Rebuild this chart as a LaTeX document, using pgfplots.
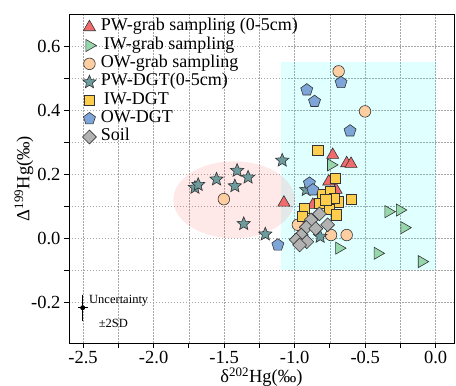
\documentclass[border=0pt]{standalone}
\usepackage{fontspec}
\setmainfont{Liberation Serif}
\usepackage{pgfplots}
\pgfplotsset{compat=1.18}
\definecolor{pwred}{RGB}{240,108,108}
\definecolor{iwgreen}{RGB}{150,215,172}
\definecolor{owpeach}{RGB}{253,206,162}
\definecolor{stargray}{RGB}{110,155,158}
\definecolor{sqyellow}{RGB}{253,205,75}
\definecolor{pentblue}{RGB}{125,165,215}
\definecolor{soilgray}{RGB}{178,178,178}
\definecolor{pcyan}{RGB}{0,255,255}
\definecolor{pred}{RGB}{255,0,0}
\pgfdeclareplotmark{fstar}{%
  \pgfpathmoveto{\pgfqpointpolar{90}{\pgfplotmarksize}}%
  \pgfpathlineto{\pgfqpointpolar{126}{0.45\pgfplotmarksize}}%
  \pgfpathlineto{\pgfqpointpolar{162}{\pgfplotmarksize}}%
  \pgfpathlineto{\pgfqpointpolar{198}{0.45\pgfplotmarksize}}%
  \pgfpathlineto{\pgfqpointpolar{234}{\pgfplotmarksize}}%
  \pgfpathlineto{\pgfqpointpolar{270}{0.45\pgfplotmarksize}}%
  \pgfpathlineto{\pgfqpointpolar{306}{\pgfplotmarksize}}%
  \pgfpathlineto{\pgfqpointpolar{342}{0.45\pgfplotmarksize}}%
  \pgfpathlineto{\pgfqpointpolar{18}{\pgfplotmarksize}}%
  \pgfpathlineto{\pgfqpointpolar{54}{0.45\pgfplotmarksize}}%
  \pgfpathclose
  \pgfusepathqfillstroke
}
\begin{document}
\begin{tikzpicture}
\begin{axis}[
  scale only axis, width=385pt, height=329pt,
  xmin=-2.6, xmax=0.13, ymin=-0.327, ymax=0.70,
  xtick={-2.5,-2.0,-1.5,-1.0,-0.5,0.0}, minor x tick num=1,
  ytick={-0.2,0.0,0.2,0.4,0.6}, minor y tick num=1,
  grid=both,
  major grid style={dash pattern=on 1.5pt off 1.5pt, gray!70, line width=0.5pt},
  minor grid style={dash pattern=on 1.5pt off 1.5pt, gray!70, line width=0.5pt},
  tick align=outside, tick pos=left,
  major tick length=5pt, minor tick length=5pt,
  every tick/.style={black, line width=0.8pt},
  axis line style={line width=0.9pt},
  /pgf/number format/assume math mode=true,
  xticklabel style={/pgf/number format/.cd, fixed, fixed zerofill, precision=1},
  yticklabel style={/pgf/number format/.cd, fixed, fixed zerofill, precision=1},
  ticklabel style={font=\fontsize{18.5}{19}\selectfont},
  label style={font=\fontsize{18.5}{19}\selectfont},
  xlabel={δ\textsuperscript{202}Hg(‰)},
  ylabel={Δ\textsuperscript{199}Hg(‰)},
  xlabel style={at={(axis description cs:0.5,-0.105)}, anchor=center},
  ylabel style={at={(axis description cs:-0.117,0.5)}, anchor=center},
  legend style={at={(0.032,0.99)}, anchor=north west, draw=none, fill=none,
    font=\fontsize{18}{19}\selectfont, row sep=0.8pt, inner sep=1pt,
    nodes={text height=11pt, text depth=3.5pt, inner sep=1.5pt},
    /tikz/every odd column/.append style={column sep=3pt}},
  legend cell align=left,
  every axis plot/.append style={only marks, line width=0.6pt},
]
\fill[pcyan, opacity=0.12] (axis cs:-1.1,-0.1) rectangle (axis cs:0,0.55);
\fill[pred, opacity=0.09] (axis cs:-1.43,0.12) ellipse [x radius=0.43, y radius=0.12];

\addplot[mark=triangle*, mark size=7pt, mark options={fill=pwred, draw=black!80}] coordinates {
(-1.076,0.111) (-0.730,0.260) (-0.631,0.234) (-0.600,0.232) (-0.758,0.177) (-0.706,0.151) (-0.871,0.104)};
\addlegendentry{PW-grab sampling (0-5cm)}
\addplot[mark=triangle*, mark size=7pt, mark options={rotate=-90, fill=iwgreen, draw=black!80}] coordinates {
(-0.742,0.229) (-0.335,0.083) (-0.254,0.088) (-0.222,0.033) (-0.412,-0.047) (-0.099,-0.073) (-0.685,-0.031)};
\addlegendentry{\,IW-grab sampling}
\addplot[mark=*, mark size=5.8pt, mark options={fill=owpeach, draw=black!80}] coordinates {
(-0.688,0.521) (-0.501,0.396) (-1.502,0.122) (-0.977,0.042) (-0.742,0.010) (-0.631,0.010)};
\addlegendentry{OW-grab sampling}
\addplot[mark=fstar, mark size=7pt, mark options={fill=stargray, draw=black!80}] coordinates {
(-1.707,0.158) (-1.684,0.167) (-1.554,0.184) (-1.408,0.211) (-1.330,0.190) (-1.424,0.163)
(-1.361,0.045) (-1.208,0.0125) (-1.088,0.243) (-0.819,0.005) (-0.918,0.151)};
\addlegendentry{PW-DGT(0-5cm)}
\addplot[mark=square*, mark size=5.2pt, mark options={fill=sqyellow, draw=black!80}] coordinates {
(-0.836,0.274) (-0.711,0.188) (-0.805,0.138) (-0.749,0.146) (-0.695,0.114) (-0.600,0.122)
(-0.930,0.094) (-0.824,0.109) (-0.754,0.091) (-0.706,0.073) (-0.946,0.068) (-0.720,0.125) (-0.780,0.120)};
\addlegendentry{\,IW-DGT}
\addplot[mark=pentagon*, mark size=6.3pt, mark options={fill=pentblue, draw=black!80}] coordinates {
(-0.914,0.463) (-0.859,0.427) (-0.671,0.486) (-0.607,0.335) (-0.895,0.172) (-0.871,0.151) (-1.119,-0.021)};
\addlegendentry{OW-DGT}
\addplot[mark=square*, mark size=4.9pt, mark options={rotate=45, fill=soilgray, draw=black!80}] coordinates {
(-0.824,0.076) (-0.883,0.057) (-0.766,0.042) (-0.918,0.034) (-0.953,0.010) (-0.989,-0.005)
(-0.914,-0.011) (-0.965,-0.021) (-0.850,0.030)};
\addlegendentry{Soil}

\addplot[black, mark=none, forget plot,
  error bars/.cd, x dir=both, x explicit, error mark=none,
  error bar style={line width=0.7pt, solid}]
  coordinates {(-2.503,-0.217) +- (0.035,0)};
\addplot[black, mark=none, forget plot,
  error bars/.cd, y dir=both, y explicit,
  error bar style={line width=0.7pt, solid}, error mark options={mark size=2.2pt, line width=0.7pt}]
  coordinates {(-2.503,-0.217) +- (0,0.034)};
\node[anchor=west, inner sep=0pt, font=\fontsize{12.5}{13}\selectfont] at (axis cs:-2.458,-0.196) {Uncertainty};
\node[inner sep=0pt, font=\fontsize{12.5}{13}\selectfont] at (axis cs:-2.285,-0.265) {±2SD};
\end{axis}
\pgfresetboundingbox
\path[use as bounding box] ([shift={(-69pt,-43pt)}]current axis.south west) rectangle ([shift={(2pt,14pt)}]current axis.north east);
\end{tikzpicture}
\end{document}
